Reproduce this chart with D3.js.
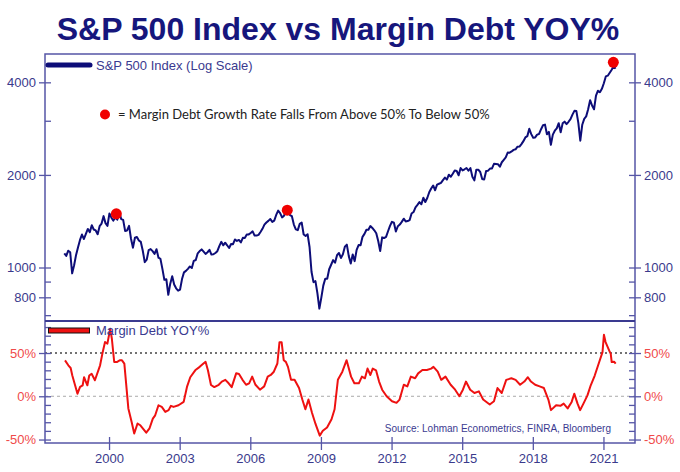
<!DOCTYPE html>
<html>
<head>
<meta charset="utf-8">
<script src="https://cdn.jsdelivr.net/npm/d3@7"></script>
<style>
  body { margin: 0; background: #fff; }
  svg { display: block; font-family: "Liberation Sans", Arial, sans-serif; }
</style>
</head>
<body>
<div id="chart"></div>
<script>
// S&P 500 monthly closes, first point sits at chart time 1998.1
let spStart = 1998.1
let spValues = [
  1112, 1091, 1134, 1121, 957, 1017, 1099, 1164, 1229,
  1280, 1238, 1286, 1335, 1302, 1373, 1329, 1320, 1283, 1363, 1389, 1469,
  1394, 1366, 1499, 1452, 1421, 1455, 1431, 1518, 1437, 1429, 1315, 1320,
  1366, 1240, 1160, 1249, 1256, 1224, 1211, 1134, 1041, 1060, 1139, 1148,
  1130, 1107, 1147, 1076, 1067, 990, 912, 916, 815, 886, 936, 880,
  856, 841, 848, 917, 964, 975, 990, 1008, 996, 1051, 1058, 1112,
  1131, 1145, 1126, 1107, 1121, 1141, 1102, 1104, 1115, 1130, 1174, 1212,
  1181, 1204, 1181, 1157, 1192, 1191, 1234, 1220, 1229, 1207, 1249, 1248,
  1280, 1281, 1295, 1311, 1270, 1270, 1277, 1304, 1336, 1378, 1401, 1418,
  1438, 1407, 1421, 1482, 1531, 1503, 1455, 1474, 1527, 1549, 1481, 1468,
  1379, 1331, 1323, 1386, 1400, 1280, 1267, 1283, 1166, 969, 896, 903,
  826, 735, 798, 873, 919, 919, 987, 1021, 1057, 1036, 1096, 1115,
  1074, 1104, 1169, 1187, 1089, 1031, 1102, 1049, 1141, 1183, 1181, 1258,
  1286, 1327, 1326, 1364, 1345, 1321, 1292, 1219, 1131, 1253, 1247, 1258,
  1312, 1366, 1408, 1398, 1310, 1362, 1379, 1407, 1441, 1412, 1416, 1426,
  1498, 1515, 1569, 1598, 1631, 1606, 1686, 1633, 1682, 1757, 1806, 1848,
  1783, 1859, 1872, 1884, 1924, 1960, 1931, 2003, 1972, 2018, 2068, 2059,
  1995, 2105, 2068, 2086, 2107, 2063, 2104, 1972, 1920, 2079, 2080, 2044,
  1940, 1932, 2060, 2065, 2097, 2099, 2174, 2171, 2168, 2126, 2199, 2239,
  2279, 2364, 2363, 2384, 2412, 2423, 2470, 2472, 2519, 2575, 2648, 2674,
  2824, 2714, 2641, 2648, 2705, 2718, 2816, 2902, 2914, 2712, 2760, 2507,
  2704, 2784, 2834, 2946, 2752, 2942, 2980, 2926, 2977, 3038, 3141, 3231,
  3226, 2954, 2585, 2912, 3044, 3100, 3271, 3500, 3363, 3270, 3622, 3756,
  3714, 3811, 3973, 4181, 4204, 4298, 4395, 4510, 4430
]

// margin debt YOY %
let mdTimes = [
  1998.13, 1998.27, 1998.37, 1998.44, 1998.66, 1998.77, 1998.88, 1998.94, 1999.02, 1999.08,
  1999.16, 1999.26, 1999.4, 1999.62, 1999.73, 1999.83, 1999.93, 2000.05, 2000.12, 2000.22,
  2000.33, 2000.45, 2000.55, 2000.65, 2000.82, 2000.96, 2001.07, 2001.21, 2001.33, 2001.58,
  2001.72, 2001.86, 2001.96, 2002.1, 2002.24, 2002.39, 2002.53, 2002.63, 2002.74, 2002.95,
  2003.17, 2003.31, 2003.45, 2003.66, 2003.85, 2004.01, 2004.1, 2004.2, 2004.33, 2004.47,
  2004.66, 2004.79, 2004.94, 2005.08, 2005.21, 2005.4, 2005.52, 2005.67, 2005.82, 2005.95,
  2006.08, 2006.22, 2006.41, 2006.59, 2006.74, 2006.87, 2007.0, 2007.15, 2007.24, 2007.33,
  2007.42, 2007.51, 2007.6, 2007.73, 2007.88, 2008.07, 2008.21, 2008.34, 2008.47, 2008.62,
  2008.77, 2008.95, 2009.08, 2009.26, 2009.45, 2009.58, 2009.72, 2009.91, 2010.09, 2010.28,
  2010.42, 2010.61, 2010.74, 2010.87, 2010.98, 2011.1, 2011.2, 2011.34, 2011.47, 2011.6,
  2011.79, 2012.02, 2012.21, 2012.34, 2012.52, 2012.67, 2012.82, 2013.0, 2013.13, 2013.31,
  2013.5, 2013.68, 2013.78, 2013.96, 2014.11, 2014.29, 2014.51, 2014.7, 2014.88, 2015.03,
  2015.16, 2015.34, 2015.52, 2015.71, 2015.89, 2016.17, 2016.35, 2016.5, 2016.68, 2016.87,
  2017.09, 2017.27, 2017.46, 2017.64, 2017.79, 2017.92, 2018.1, 2018.29, 2018.47, 2018.66,
  2018.77, 2018.99, 2019.17, 2019.31, 2019.48, 2019.65, 2019.76, 2019.9, 2020.01, 2020.15,
  2020.32, 2020.46, 2020.63, 2020.82, 2020.96, 2021.02, 2021.09, 2021.24, 2021.31, 2021.35,
  2021.45, 2021.52
]
let mdValues = [
  41.5, 35.8, 32.7, 24, 3, 10.8, 12.7, 22, 16.5, 12.7,
  24, 26, 18.5, 35.8, 51, 62.7, 60.8, 78, 66.5, 39.6,
  39.6, 41.5, 41.5, 37.7, -14, -29.6, -43, -31.5, -33.5, -42,
  -37, -25.8, -22, -10.4, -12.3, -18, -16, -11, -12.3, -10.4,
  -6.5, 10.8, 22, 30, 34, 37.9, 39.8, 30, 13, 10.6,
  13.3, 17, 19, 15, 10.6, 26.5, 25.8, 19, 13.3, 15,
  22.7, 13.3, 7.6, 11.4, 22.7, 24.6, 28.4, 37.9, 62.5, 62.5,
  41.7, 39.8, 34, 19, 19, 9.5, -3.8, -15, -3.8, -19,
  -32, -45.5, -39.8, -36, -26.5, -15, 19, 28.4, 41.7, 22.7,
  15, 15, 22.7, 20.8, 32, 24.6, 32, 30, 17, 7.6,
  0, -5.7, -7.6, -3.8, 13.3, 11.4, 22.7, 20.8, 26.5, 30.3,
  30.3, 32, 34, 28.4, 19, 22.7, 13.3, 7.6, 0, 7.6,
  17, 7.6, 3.8, 5.7, -3.8, -9.5, -5.7, 9.5, 3.8, 19,
  20.8, 19, 13.3, 17, 22, 17, 13.3, 11.4, 9.5, -3.8,
  -16, -10.4, -11, -8.5, -14, -6.5, 3, -8.5, -16, -8.5,
  1, 12.7, 24, 39.6, 51, 71, 62.7, 53, 49, 39.6,
  40, 37.7
]

// red dots: margin debt growth falls from above 50% to below 50%
let signalTimes = [2000.31, 2007.57, 2021.42]
let signalValues = [1495, 1536, 4646]

let yearTicks = [2000, 2003, 2006, 2009, 2012, 2015, 2018, 2021]
let spTicks = [4000, 2000, 1000, 800]
let spMinorTicks = [3000, 900, 700]
let mdTicks = [50, 0, -50]
let mdMinorTicks = [-40, -30, -20, -10, 10, 20, 30, 40, 60, 70, 80]

let width = 680, height = 472
let frame = {left: 45, right: 635, top: 54, mid: 321, bottom: 443}

let navy = "#0d0d78"
let frameColor = "#5656a6"
let labelColor = "#3a3a8c"
let pctColor = "#f04a4a"

let svg = d3.select("#chart")
  .append("svg")
  .attr("width", width)
  .attr("height", height)

let x = d3.scaleLinear()
  .domain([1997.28, 2022.34])
  .range([frame.left, frame.right])

let ySp = d3.scaleLog()
  .domain([670, 4945])
  .range([frame.mid, frame.top])

let yMd = d3.scaleLinear()
  .domain([-54, 87])
  .range([frame.bottom, frame.mid])

// title
svg.append("text")
  .attr("x", 338)
  .attr("y", 40)
  .attr("text-anchor", "middle")
  .attr("font-weight", "bold")
  .attr("font-size", 32)
  .attr("fill", "#16167c")
  .text("S&P 500 Index vs Margin Debt YOY%")

// reference lines in the lower panel
svg.append("line")
  .attr("x1", frame.left).attr("x2", frame.right)
  .attr("y1", yMd(50)).attr("y2", yMd(50))
  .attr("stroke", "#444")
  .attr("stroke-width", 1.3)
  .attr("stroke-dasharray", "2,3")

svg.append("line")
  .attr("x1", frame.left).attr("x2", frame.right)
  .attr("y1", yMd(0)).attr("y2", yMd(0))
  .attr("stroke", "#aaa")
  .attr("stroke-width", 1)
  .attr("stroke-dasharray", "3,3")

// axes
function styleAxis(g, color) {
  g.select(".domain").remove()
  g.selectAll(".tick line").attr("stroke", frameColor).attr("stroke-width", 1.3)
  g.selectAll(".tick text")
    .attr("fill", color)
    .attr("font-size", 13)
    .attr("font-family", "Liberation Sans, Arial, sans-serif")
}

// major ticks cross the frame, minor ones sit inside
function crossTicks(g, side) {
  g.selectAll(".tick line")
    .attr("x1", side * -6)
    .attr("x2", side * 6)
}

svg.append("g")
  .attr("transform", `translate(${frame.left},0)`)
  .call(d3.axisLeft(ySp).tickValues(spTicks).tickFormat(d3.format("d")).tickSize(6).tickPadding(3))
  .call(g => styleAxis(g, labelColor))
  .call(g => crossTicks(g, -1))

svg.append("g")
  .attr("transform", `translate(${frame.right},0)`)
  .call(d3.axisRight(ySp).tickValues(spTicks).tickFormat(d3.format("d")).tickSize(6).tickPadding(3))
  .call(g => styleAxis(g, labelColor))
  .call(g => crossTicks(g, 1))

svg.append("g")
  .attr("transform", `translate(${frame.left},0)`)
  .call(d3.axisRight(ySp).tickValues(spMinorTicks).tickFormat("").tickSize(6))
  .call(g => styleAxis(g, labelColor))

svg.append("g")
  .attr("transform", `translate(${frame.right},0)`)
  .call(d3.axisLeft(ySp).tickValues(spMinorTicks).tickFormat("").tickSize(6))
  .call(g => styleAxis(g, labelColor))

let pctFormat = d => d + "%"

svg.append("g")
  .attr("transform", `translate(${frame.left},0)`)
  .call(d3.axisLeft(yMd).tickValues(mdTicks).tickFormat(pctFormat).tickSize(6).tickPadding(3))
  .call(g => styleAxis(g, pctColor))
  .call(g => crossTicks(g, -1))

svg.append("g")
  .attr("transform", `translate(${frame.right},0)`)
  .call(d3.axisRight(yMd).tickValues(mdTicks).tickFormat(pctFormat).tickSize(6).tickPadding(3))
  .call(g => styleAxis(g, pctColor))
  .call(g => crossTicks(g, 1))

svg.append("g")
  .attr("transform", `translate(${frame.left},0)`)
  .call(d3.axisRight(yMd).tickValues(mdMinorTicks).tickFormat("").tickSize(6))
  .call(g => styleAxis(g, pctColor))

svg.append("g")
  .attr("transform", `translate(${frame.right},0)`)
  .call(d3.axisLeft(yMd).tickValues(mdMinorTicks).tickFormat("").tickSize(6))
  .call(g => styleAxis(g, pctColor))

svg.append("g")
  .attr("transform", `translate(0,${frame.bottom})`)
  .call(d3.axisBottom(x).tickValues(yearTicks).tickFormat(d3.format("d")).tickSize(7).tickPadding(4))
  .call(g => styleAxis(g, labelColor))
  .call(g => g.selectAll(".tick line").attr("y1", -6).attr("y2", 7))

// frame
svg.append("rect")
  .attr("x", frame.left)
  .attr("y", frame.top)
  .attr("width", frame.right - frame.left)
  .attr("height", frame.bottom - frame.top)
  .attr("fill", "none")
  .attr("stroke", frameColor)
  .attr("stroke-width", 1.5)

svg.append("line")
  .attr("x1", frame.left).attr("x2", frame.right)
  .attr("y1", frame.mid).attr("y2", frame.mid)
  .attr("stroke", "#3a3a90")
  .attr("stroke-width", 2)

// S&P line
let spData = spValues.map((v, i) => ({t: spStart + i / 12, v: v}))

svg.append("path")
  .attr("d", d3.line().x(d => x(d.t)).y(d => ySp(d.v))(spData))
  .attr("fill", "none")
  .attr("stroke", navy)
  .attr("stroke-width", 2)
  .attr("stroke-linejoin", "round")

// margin debt line
let mdData = mdTimes.map((t, i) => ({t: t, v: mdValues[i]}))

svg.append("path")
  .attr("d", d3.line().x(d => x(d.t)).y(d => yMd(d.v))(mdData))
  .attr("fill", "none")
  .attr("stroke", "#ee1111")
  .attr("stroke-width", 2)
  .attr("stroke-linejoin", "round")

// signal dots
svg.selectAll(".signal")
  .data(signalTimes)
  .enter()
  .append("circle")
  .attr("class", "signal")
  .attr("cx", d => x(d))
  .attr("cy", (d, i) => ySp(signalValues[i]))
  .attr("r", 5.5)
  .attr("fill", "#f00000")

// legends
svg.append("line")
  .attr("x1", 48).attr("x2", 90)
  .attr("y1", 65).attr("y2", 65)
  .attr("stroke", navy)
  .attr("stroke-width", 5)
  .attr("stroke-linecap", "round")

svg.append("text")
  .attr("x", 96)
  .attr("y", 69.5)
  .attr("font-size", 13)
  .attr("fill", "#3a3a90")
  .text("S&P 500 Index (Log Scale)")

svg.append("rect")
  .attr("x", 48.5)
  .attr("y", 328)
  .attr("width", 41)
  .attr("height", 5)
  .attr("fill", "#ee1111")
  .attr("stroke", "#111")
  .attr("stroke-width", 1)

svg.append("text")
  .attr("x", 96)
  .attr("y", 335)
  .attr("font-size", 13)
  .attr("fill", "#3a3a90")
  .text("Margin Debt YOY%")

// annotation
svg.append("circle")
  .attr("cx", 105)
  .attr("cy", 114.5)
  .attr("r", 5)
  .attr("fill", "#f00000")

svg.append("text")
  .attr("x", 118)
  .attr("y", 118.5)
  .attr("font-family", "Lato, 'Open Sans', sans-serif")
  .attr("font-size", 13)
  .attr("fill", "#222")
  .text("= Margin Debt Growth Rate Falls From Above 50% To Below 50%")

// source
svg.append("text")
  .attr("x", 611)
  .attr("y", 432)
  .attr("text-anchor", "end")
  .attr("font-size", 10)
  .attr("fill", "#3a3a90")
  .text("Source: Lohman Econometrics, FINRA, Bloomberg")
</script>
</body>
</html>
